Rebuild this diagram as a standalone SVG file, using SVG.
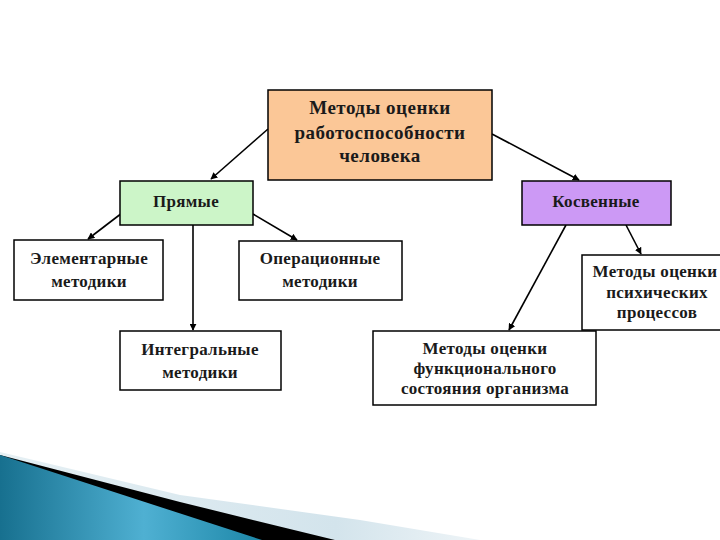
<svg xmlns="http://www.w3.org/2000/svg" width="720" height="540" viewBox="0 0 720 540">
<style>
.box{stroke:#000;stroke-width:1.5}
.t{font-family:"Liberation Serif","Times New Roman",serif;font-size:17px;font-weight:bold;fill:#1a1a1a;text-anchor:middle;letter-spacing:0.3px}
.tm{font-size:19px;letter-spacing:0.5px}
.c{stroke:#000;stroke-width:1.6;fill:none;marker-end:url(#ah)}
</style>
<defs>
<marker id="ah" viewBox="0 0 10 10" refX="9" refY="5" markerWidth="7" markerHeight="7" orient="auto" markerUnits="userSpaceOnUse">
<path d="M0,0 L10,5 L0,10 z" fill="#000"/>
</marker>
<linearGradient id="blue" x1="0" y1="0" x2="1" y2="0">
<stop offset="0" stop-color="#17708f"/>
<stop offset="0.55" stop-color="#4fb0d2"/>
<stop offset="1" stop-color="#1d87a8"/>
</linearGradient>
<linearGradient id="light" x1="0" y1="0" x2="1" y2="0">
<stop offset="0" stop-color="#e6f0f4"/>
<stop offset="0.7" stop-color="#d3e4ec"/>
<stop offset="1" stop-color="#eef4f7"/>
</linearGradient>
</defs>
<rect width="720" height="540" fill="#fff"/>
<g id="decor">
<polygon points="0,452 180,495 360,520 480,540 0,540" fill="url(#light)"/>
<polygon points="0,455 180,502 335,540 0,540" fill="#000"/>
<polygon points="0,455 262,540 0,540" fill="url(#blue)"/>
</g>
<g id="connectors">
<line class="c" x1="268" y1="129" x2="211" y2="179"/>
<line class="c" x1="492" y1="134" x2="579" y2="180"/>
<line class="c" x1="122" y1="213" x2="88" y2="239"/>
<line class="c" x1="253" y1="214" x2="297" y2="240"/>
<line class="c" x1="193" y1="225" x2="193" y2="330"/>
<line class="c" x1="566" y1="225" x2="509" y2="330"/>
<line class="c" x1="626" y1="225" x2="641" y2="254"/>
</g>
<g id="n-main">
<rect class="box" x="268" y="90" width="224" height="90" fill="#fbc797"/>
<text class="t tm" x="380" y="114">Методы оценки</text>
<text class="t tm" x="380" y="139">работоспособности</text>
<text class="t tm" x="380" y="162">человека</text>
</g>
<g id="n-direct">
<rect class="box" x="120" y="181" width="133" height="44" fill="#ccf5c8"/>
<text class="t" x="186" y="207">Прямые</text>
</g>
<g id="n-indirect">
<rect class="box" x="522" y="181" width="149" height="44" fill="#cc99f5"/>
<text class="t" x="596" y="207">Косвенные</text>
</g>
<g id="n-elem">
<rect class="box" x="14" y="240" width="149" height="60" fill="#fff"/>
<text class="t" x="89" y="264">Элементарные</text>
<text class="t" x="89" y="287">методики</text>
</g>
<g id="n-oper">
<rect class="box" x="239" y="241" width="163" height="59" fill="#fff"/>
<text class="t" x="320" y="264">Операционные</text>
<text class="t" x="320" y="287">методики</text>
</g>
<g id="n-integr">
<rect class="box" x="120" y="331" width="161" height="59" fill="#fff"/>
<text class="t" x="200" y="355">Интегральные</text>
<text class="t" x="200" y="378">методики</text>
</g>
<g id="n-func">
<rect class="box" x="373" y="331" width="223" height="74" fill="#fff"/>
<text class="t" x="485" y="354">Методы оценки</text>
<text class="t" x="485" y="374">функционального</text>
<text class="t" x="485" y="394">состояния организма</text>
</g>
<g id="n-psych">
<rect class="box" x="582" y="255" width="150" height="75" fill="#fff"/>
<text class="t" x="655" y="277">Методы оценки</text>
<text class="t" x="657" y="298">психических</text>
<text class="t" x="657" y="318">процессов</text>
</g>
</svg>
